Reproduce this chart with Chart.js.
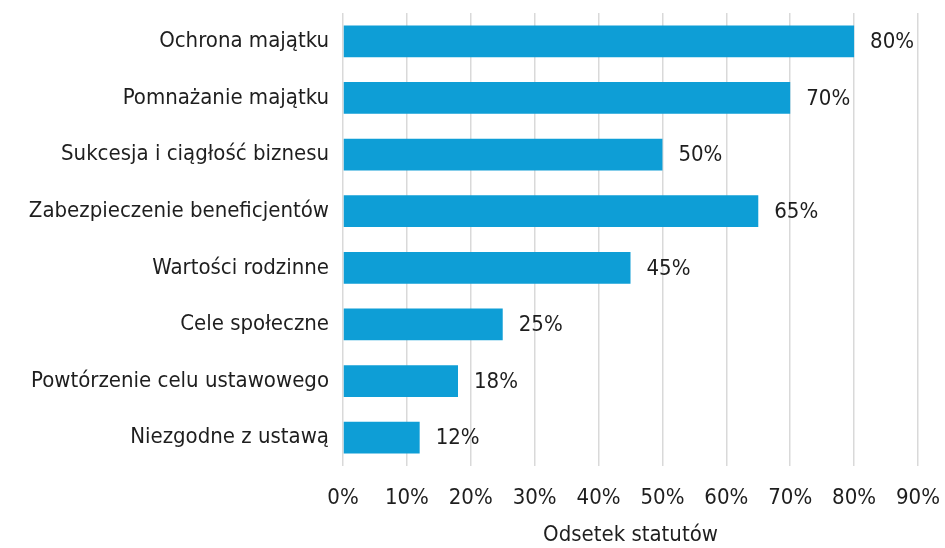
<!DOCTYPE html>
<html>
<head>
<meta charset="utf-8">
<script src="https://cdn.jsdelivr.net/npm/chart.js@4/dist/chart.umd.min.js"></script>
<style>
  html, body { margin: 0; padding: 0; background: #fff; }
  #wrap { width: 945px; height: 548px; }
</style>
</head>
<body>
<div id="wrap"><canvas id="myChart" width="945" height="548"></canvas></div>
<script>
// data
const categories = [
    'Ochrona majątku',
    'Pomnażanie majątku',
    'Sukcesja i ciągłość biznesu',
    'Zabezpieczenie beneficjentów',
    'Wartości rodzinne',
    'Cele społeczne',
    'Powtórzenie celu ustawowego',
    'Niezgodne z ustawą'
];
const shares = [80, 70, 50, 65, 45, 25, 18, 12];
const xTicks = [0, 10, 20, 30, 40, 50, 60, 70, 80, 90];
const axisTitle = 'Odsetek statutów';

const FONT = "'Liberation Sans Narrow', 'DejaVu Sans Condensed', 'Roboto', sans-serif";

//draws "80%" etc just after the end of each bar
const valueLabels = {
    id: 'valueLabels',
    afterDatasetsDraw(chart) {
        const ctx = chart.ctx;
        const meta = chart.getDatasetMeta(0);
        ctx.save();
        ctx.font = '22px ' + FONT;
        ctx.fillStyle = '#1e1e1e';
        ctx.textAlign = 'left';
        ctx.textBaseline = 'middle';
        meta.data.forEach((bar, i) => {
            ctx.fillText(shares[i] + '%', bar.x + 16, bar.y + 1);
        });
        ctx.restore();
    }
};

const ctx = document.getElementById('myChart').getContext('2d');
const myChart = new Chart(ctx, {
    type: 'bar',
    data: {
        labels: categories,
        datasets: [{
            data: shares,
            backgroundColor: '#0e9ed6',
            borderWidth: 0,
            categoryPercentage: 1,
            barPercentage: 0.56
        }]
    },
    options: {
        indexAxis: 'y',
        responsive: false,
        animation: false,
        layout: { padding: { top: 13, right: 27, left: 0, bottom: 0 } },
        plugins: {
            legend: { display: false },
            tooltip: { enabled: false }
        },
        scales: {
            x: {
                min: 0,
                max: 90,
                afterBuildTicks: (axis) => { axis.ticks = xTicks.map(v => ({ value: v })); },
                afterFit: (axis) => {
                    axis.height = 82;
                    axis.paddingLeft = 0;
                    axis.paddingRight = 0;
                },
                ticks: {
                    callback: (v) => v + '%',
                    color: '#1e1e1e',
                    font: { family: FONT, size: 22 },
                    padding: 19,
                    maxRotation: 0
                },
                grid: { color: '#d9d9d9', lineWidth: 1.5, drawTicks: false },
                border: { display: false },
                title: {
                    display: true,
                    text: axisTitle,
                    color: '#1e1e1e',
                    font: { family: FONT, size: 22 },
                    padding: { top: 8, bottom: 0 }
                }
            },
            y: {
                afterFit: (axis) => {
                    axis.width = 343;
                    axis.paddingTop = 0;
                    axis.paddingBottom = 0;
                },
                ticks: {
                    color: '#1e1e1e',
                    font: { family: FONT, size: 22 },
                    padding: 14
                },
                grid: { display: false, drawTicks: false },
                border: { display: false }
            }
        }
    },
    plugins: [valueLabels]
});
</script>
</body>
</html>
